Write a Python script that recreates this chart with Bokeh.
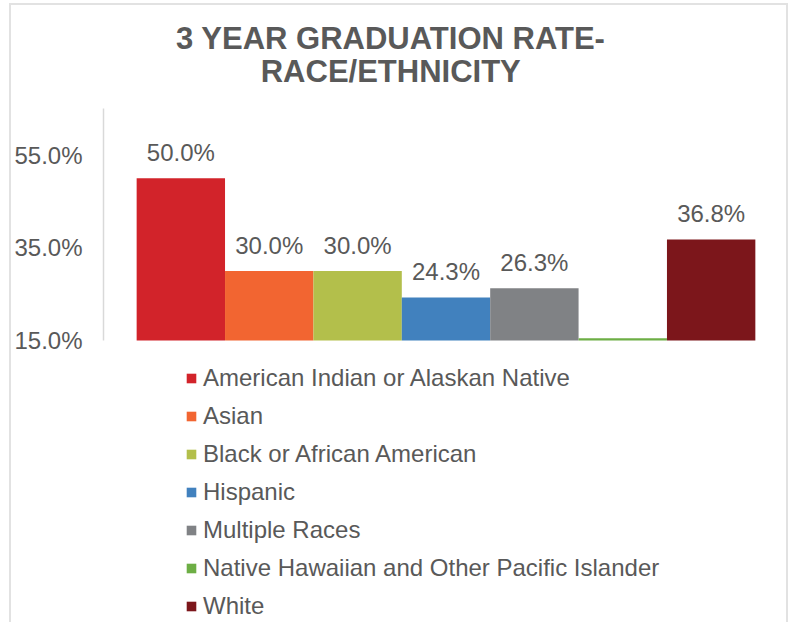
from bokeh.plotting import figure
from bokeh.models import Range1d, FixedTicker, NumeralTickFormatter, Legend, LegendItem
from bokeh.embed import file_html
from bokeh.resources import INLINE
from bokeh.core.properties import value

# ---- data ----
categories = [
    "American Indian or Alaskan Native",
    "Asian",
    "Black or African American",
    "Hispanic",
    "Multiple Races",
    "Native Hawaiian and Other Pacific Islander",
    "White",
]
rates = [0.500, 0.300, 0.300, 0.243, 0.263, 0.155, 0.368]
rate_labels = ["50.0%", "30.0%", "30.0%", "24.3%", "26.3%", "", "36.8%"]
colors = ["#D2232A", "#F26531", "#B3BF4B", "#4181BE", "#808285", "#6DAE45", "#7C161B"]
y_ticks = [0.15, 0.35, 0.55]
y_min, y_max = 0.15, 0.65
title_lines = ["3 YEAR GRADUATION RATE-", "RACE/ETHNICITY"]

TEXT = "#595959"
FONT = "Liberation Sans"

# ---- layout (pixels) ----
W, H = 775, 617
FRAME_L = 91            # frame left inside canvas
BAR_L, BAR_R = 33, 649  # bar block inside frame
UX = (BAR_R - BAR_L) / len(categories)
UY = 462.0              # px per unit of rate
BASE = 334              # y of 15% inside canvas (from top)

frame_w = W - FRAME_L
x_start = -BAR_L / UX
x_end = x_start + frame_w / UX
y_start = y_min - (H - BASE) / UY
y_end = y_min + BASE / UY

p = figure(
    width=W, height=H,
    output_backend="svg", toolbar_location=None,
    x_range=Range1d(x_start, x_end),
    y_range=Range1d(y_start, y_end),
    x_axis_location=None,
    min_border_left=FRAME_L, min_border_right=0,
    min_border_top=0, min_border_bottom=0,
)
p.styles = {
    "box-sizing": "content-box",
    "margin-left": "9px", "margin-top": "3px",
    "border-left": "2px solid #e2e2e2",
    "border-top": "2px solid #e2e2e2",
    "border-right": "2px solid #e2e2e2",
}
p.outline_line_color = None
p.xgrid.visible = False
p.ygrid.visible = False

yax = p.yaxis[0]
yax.ticker = FixedTicker(ticks=y_ticks)
yax.bounds = (y_min, y_max)
yax.formatter = NumeralTickFormatter(format="0.0%")
yax.axis_line_color = "#d9d9d9"
yax.axis_line_width = 1.5
yax.major_tick_line_color = None
yax.major_tick_out = 0
yax.major_tick_in = 0
yax.minor_tick_line_color = None
yax.major_label_text_font = FONT
yax.major_label_text_font_size = "24px"
yax.major_label_text_color = TEXT
yax.major_label_standoff = 21

items = []
for i, (cat, v, c) in enumerate(zip(categories, rates, colors)):
    r = p.quad(left=[i], right=[i + 1], bottom=[y_min], top=[v],
               fill_color=c, line_color=None)
    items.append(LegendItem(label=cat, renderers=[r]))

p.text(x=[i + 0.5 for i in range(len(categories))], y=rates, text=rate_labels,
       text_align="center", text_baseline="alphabetic", y_offset=-26,
       text_font=value(FONT), text_font_size="24px", text_color=TEXT)

# title (centered over the chart box)
title_x = (377 - FRAME_L - BAR_L) / UX
title_y = [y_min + (BASE - 33) / UY, y_min + (BASE - 66) / UY]
p.text(x=[title_x, title_x], y=title_y, text=title_lines,
       text_align="center", text_baseline="middle",
       text_font=value(FONT), text_font_style="bold",
       text_font_size="31px", text_color=TEXT)

legend = Legend(items=items, orientation="vertical", location=(82, 4),
                glyph_width=12, glyph_height=12, label_height=28, spacing=10,
                label_standoff=6, padding=0, margin=0,
                label_text_font=FONT, label_text_font_size="24px",
                label_text_color=TEXT,
                border_line_color=None, background_fill_alpha=0)
p.add_layout(legend)

open("out.html", "w").write(file_html(p, INLINE))
